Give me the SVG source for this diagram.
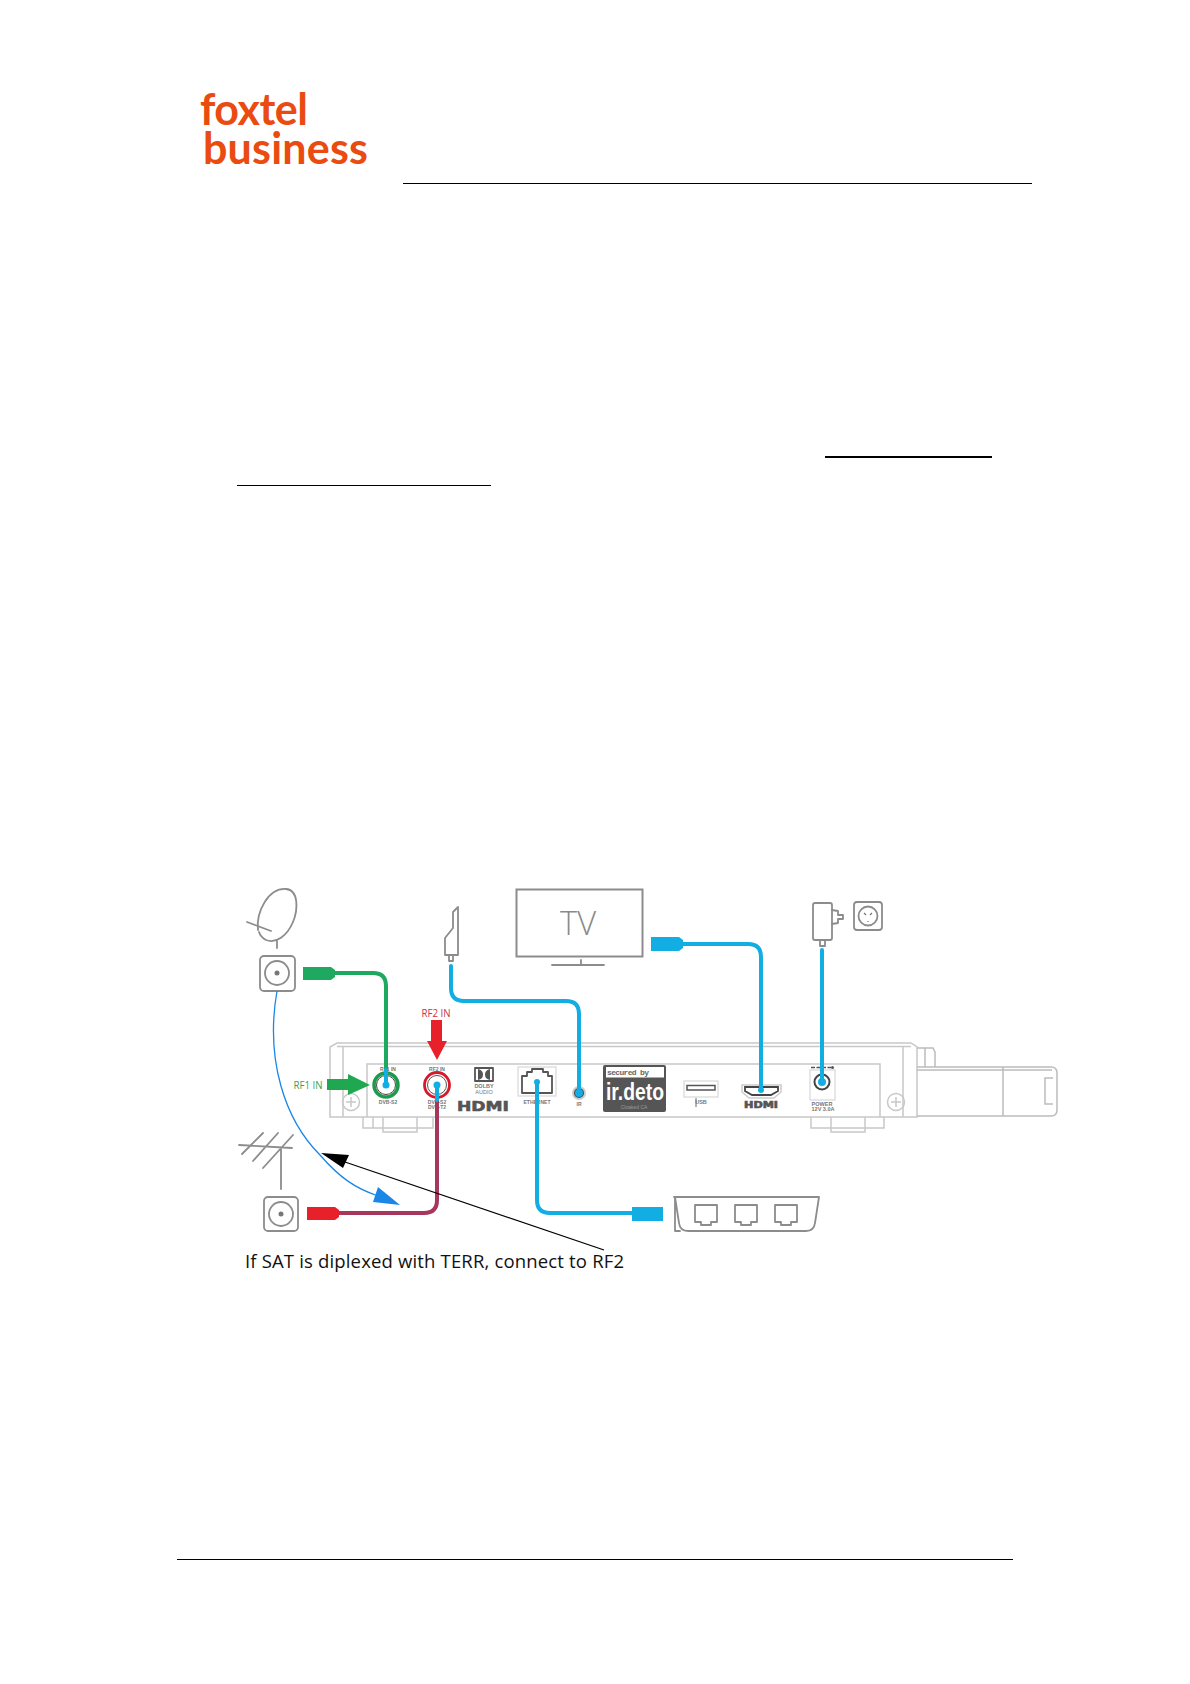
<svg xmlns="http://www.w3.org/2000/svg" width="1190" height="1684" viewBox="0 0 1190 1684">
<style>
.g{fill:none;stroke:#8c8c8c;stroke-width:1.8;stroke-linejoin:round;stroke-linecap:round}
.l{fill:none;stroke:#c8c8c8;stroke-width:1.5}
.d{fill:none;stroke:#555;stroke-width:1.8;stroke-linejoin:round}
.page{stroke:#000;fill:none}
.c{fill:none;stroke-width:4;stroke-linecap:round;stroke-linejoin:round}
.blue{stroke:#12aee3}.bf{fill:#12aee3}
.t{font-family:"Liberation Sans",Arial,sans-serif;fill:#777;font-weight:bold;text-anchor:middle}
.lbl{font-family:"Open Sans","Liberation Sans",sans-serif;font-size:10.5px;text-anchor:middle}
.logo{font-family:Lato,"Open Sans",sans-serif;font-weight:700;fill:#e94b11}
.hd{font-family:"DejaVu Sans",sans-serif;font-weight:bold;fill:#555;stroke:#555;stroke-width:.6;text-anchor:middle}
</style>
<rect width="1190" height="1684" fill="#fff"/>
<g id="logo"><text class="logo" x="200" y="125" font-size="43" textLength="108" lengthAdjust="spacing">foxtel</text>
<text class="logo" x="203" y="164" font-size="43" textLength="165" lengthAdjust="spacing">business</text></g>
<g id="page-rules">
<line class="page" x1="403" y1="183.500" x2="1032" y2="183.500" stroke-width="1"/>
<line class="page" x1="825" y1="457" x2="992" y2="457" stroke-width="2"/>
<line class="page" x1="237" y1="485.500" x2="491" y2="485.500" stroke-width="1"/>
<line class="page" x1="177" y1="1559.500" x2="1013" y2="1559.500" stroke-width="1"/>
</g>
<g id="stb">
<path class="l" d="M330 1117V1047L337 1043H911L917 1047V1117Z"/>
<path class="l" d="M337 1046.500H911M343 1046V1117M903 1046V1117M367 1117V1064H880V1117"/>
<path class="l" d="M363 1117V1128H433V1117M373 1117V1128M383 1117V1132H417V1117"/>
<path class="l" d="M811 1117V1128H884V1117M831 1117V1132H865V1117"/>
<path class="l" style="stroke:#bcbcbc" d="M917 1067H1051Q1057 1067 1057 1073V1110Q1057 1116 1051 1116H917M917 1070H1052M917 1048H933L935 1052V1067M925 1048V1067M1003 1067V1116M1053 1078H1045V1104H1053"/>
<g class="l"><circle cx="351" cy="1102" r="8.500"/><path d="M346 1102H356M351 1097V1107"/><circle cx="896" cy="1102" r="8.500"/><path d="M891 1102H901M896 1097V1107"/></g>
</g>
<g id="port-rf1"><circle cx="386" cy="1085" r="12" fill="#fff" stroke="#1f9a4c" stroke-width="3.500"/><circle cx="386" cy="1085" r="9.500" fill="none" stroke="#444" stroke-width="1"/>
<text class="t" x="388" y="1071" font-size="5">RF1 IN</text><text class="t" x="388" y="1104" font-size="5">DVB-S2</text></g>
<g id="port-rf2"><circle cx="437" cy="1085" r="12.500" fill="#fff" stroke="#d8192c" stroke-width="2.800"/><circle cx="437" cy="1085" r="9.500" fill="none" stroke="#555" stroke-width="1"/>
<text class="t" x="437" y="1071" font-size="5">RF2 IN</text><text class="t" x="437" y="1104" font-size="5">DVB-S2</text><text class="t" x="437" y="1109" font-size="5">DVB-T2</text></g>
<g id="dolby"><rect x="475" y="1068" width="18" height="13" class="d" stroke-width="1.200"/><path d="M478 1069V1080Q483 1079 483 1074.500Q483 1070 478 1069ZM490 1069V1080Q485 1079 485 1074.500Q485 1070 490 1069Z" fill="#555"/>
<text class="t" x="484" y="1088" font-size="5.500">DOLBY</text><text class="t" x="484" y="1094" font-size="5.500" style="font-weight:normal">AUDIO</text></g>
<g id="hdmi-logo"><text class="hd" x="483" y="1111" font-size="14" textLength="52" lengthAdjust="spacingAndGlyphs">HDMI</text></g>
<g id="port-ethernet"><rect x="518" y="1067" width="38" height="29" fill="none" stroke="#d8d8d8" stroke-width="1.200"/>
<path d="M522 1093V1076H527V1072H532V1069H543V1072H548V1076H552V1093Z" class="d"/>
<text class="t" x="537" y="1103.500" font-size="5">ETHERNET</text></g>
<g id="port-ir"><circle cx="579" cy="1093" r="7" fill="#ccc"/><circle cx="579" cy="1093" r="5" fill="#445"/><text class="t" x="579" y="1106" font-size="5">IR</text></g>
<g id="irdeto"><rect x="603" y="1065" width="63" height="47" rx="2" fill="#555"/><rect x="606" y="1067" width="58" height="10.500" fill="#fff"/>
<text x="607" y="1075" font-family="Liberation Mono,monospace" font-weight="bold" font-size="8" fill="#666" textLength="42">secured by</text>
<text x="606" y="1100" font-family="Liberation Sans,sans-serif" font-weight="bold" font-size="23" fill="#fff" textLength="58" lengthAdjust="spacingAndGlyphs">ir.deto</text>
<text x="634" y="1109" font-family="Liberation Sans,sans-serif" font-size="5" fill="#999" text-anchor="middle">Cloaked CA</text></g>
<g id="port-usb"><rect x="684" y="1081" width="34" height="16" fill="none" stroke="#d8d8d8" stroke-width="1.200"/><rect x="687" y="1085.500" width="28" height="4.500" fill="none" stroke="#555" stroke-width="1.500"/>
<text class="t" x="701" y="1104" font-size="5.500">USB</text><path d="M696 1098V1107" stroke="#666"/></g>
<g id="port-hdmi"><path d="M742 1085H781V1092L774 1098H749L742 1092Z" fill="none" stroke="#ccc" stroke-width="1.500"/><path d="M745 1087H778V1091L771 1095H752L745 1091Z" fill="none" stroke="#444" stroke-width="1.800"/>
<text class="hd" x="761" y="1108" font-size="8" textLength="34" lengthAdjust="spacingAndGlyphs">HDMI</text></g>
<g id="port-power"><rect x="810" y="1070" width="25" height="30" fill="none" stroke="#d8d8d8" stroke-width="1.200"/><circle cx="822" cy="1082" r="7.500" fill="#fff" stroke="#444" stroke-width="2"/>
<path d="M811 1067.500H831" stroke="#555" stroke-width="1.500" stroke-dasharray="4 1.500"/><circle cx="832.500" cy="1067.500" r="1.500" fill="#555"/>
<text class="t" x="822" y="1105.500" font-size="5.500">POWER</text><text class="t" x="823" y="1111" font-size="5.500">12V  3.0A</text></g>
<g id="dish"><path class="g" d="M258 930C256 912 268 888 286 889C299 890 298 910 293 922C287 936 276 944 266 940C262 938 260 935 259 932"/><path class="g" d="M247 922L271 931M277 941V948"/></g>
<g id="sat-socket"><rect x="260" y="956" width="35" height="35" rx="4" class="g"/><circle cx="277" cy="973" r="12" class="g"/><circle cx="277" cy="973" r="2.500" fill="#777"/></g>
<g id="antenna"><path class="g" d="M239 1145L292 1148M242 1154L263 1133M253 1161L278 1133M263 1168L293 1135M281 1148V1189"/></g>
<g id="terr-socket"><rect x="264" y="1197" width="34" height="34" rx="4" class="g"/><circle cx="281" cy="1214" r="12" class="g"/><circle cx="281" cy="1214" r="2.500" fill="#777"/></g>
<g id="stick"><path class="g" d="M453 912L458 907V955H445V938L453 928Z"/><path class="g" d="M449 955V961H453V955"/></g>
<g id="tv"><rect x="516.500" y="889.500" width="126" height="67" fill="none" stroke="#8c8c8c" stroke-width="2"/><path class="g" d="M552 965H604M581 960V965"/>
<text x="578" y="935" font-family="Open Sans,Liberation Sans,sans-serif" font-size="33" font-weight="300" fill="#8a8a8a" text-anchor="middle" textLength="36" lengthAdjust="spacingAndGlyphs">TV</text></g>
<g id="adapter"><rect x="813" y="903" width="19" height="37" rx="2" class="g"/><path class="g" d="M832 910L838 911V915H843V919H838V923L832 924M820 940V946H825V940"/></g>
<g id="wall-socket"><rect x="854" y="902" width="28" height="28" rx="3" class="g"/><circle cx="868" cy="916" r="9.500" class="g"/><path d="M864 913L866 915M872 913L870 915M868 921V922" stroke="#777" stroke-width="1.200"/></g>
<g id="router"><path class="g" d="M674 1197H819L815 1223Q814 1231 806 1231H688Q680 1231 679 1223L675 1197V1231H680"/>
<g class="g"><path d="M695 1205H717V1222H711V1225H701V1222H695Z"/><path d="M735 1205H757V1222H751V1225H741V1222H735Z"/><path d="M775 1205H797V1222H791V1225H781V1222H775Z"/></g></g>
<g id="connectors">
<path class="c" stroke="#1fa860" d="M334 973H373Q386 973 386 986V1070"/>
<path class="c blue" d="M386 1070V1085"/><circle cx="386" cy="1085" r="3.500" class="bf"/>
<path d="M303 967H331L335 970V977L331 980H303Z" fill="#1fa860"/>
<path class="c" stroke="#a6365a" d="M338 1213H424Q437 1213 437 1200V1100"/>
<path class="c blue" d="M437 1100V1085"/><circle cx="437" cy="1085" r="3.500" class="bf"/>
<path d="M307 1207H335L339 1210V1217L335 1220H307Z" fill="#e8202a"/>
<path class="c blue" d="M451 966V988Q451 1001 464 1001H566Q579 1001 579 1014V1093"/><circle cx="579" cy="1093" r="4" class="bf"/>
<path class="c blue" d="M537 1082V1200Q537 1213 550 1213H635"/><circle cx="537" cy="1082" r="3" class="bf"/>
<rect x="632" y="1207" width="31" height="14" class="bf"/>
<path class="c blue" d="M680 944H748Q761 944 761 957V1090"/><circle cx="761" cy="1090" r="3" class="bf"/>
<path d="M651 937H679L683 940V948L679 951H651Z" class="bf"/>
<path class="c blue" d="M822 950V1082"/><circle cx="822" cy="1082" r="4" class="bf"/>
<path fill="none" stroke="#1a87e8" stroke-width="1.300" d="M277 991C265 1060 285 1120 320 1155C340 1178 355 1188 378 1196"/>
<path fill="#1a87e8" d="M400 1205L378 1187L373 1202Z"/>
<path fill="none" stroke="#000" stroke-width="1.300" d="M345 1162L604 1250"/>
<path fill="#000" d="M321 1153L349 1155L343 1168Z"/>
</g>
<g id="rf1-label"><path fill="#1fa84f" d="M327 1079H348V1074L370 1085L348 1095V1090H327Z"/><text class="lbl" x="308" y="1089" fill="#2fa35a" textLength="29" lengthAdjust="spacingAndGlyphs">RF1 IN</text></g>
<g id="rf2-label"><path fill="#e8202a" d="M431 1020H442V1041H447L437 1060L427 1041H431Z"/><text class="lbl" x="436" y="1017" fill="#c8324a" textLength="29" lengthAdjust="spacingAndGlyphs">RF2 IN</text></g>
<text id="note" x="245" y="1268" font-family="Open Sans,Noto Sans,sans-serif" font-size="18.500" fill="#111" textLength="379" lengthAdjust="spacing">If SAT is diplexed with TERR, connect to RF2</text>
</svg>
